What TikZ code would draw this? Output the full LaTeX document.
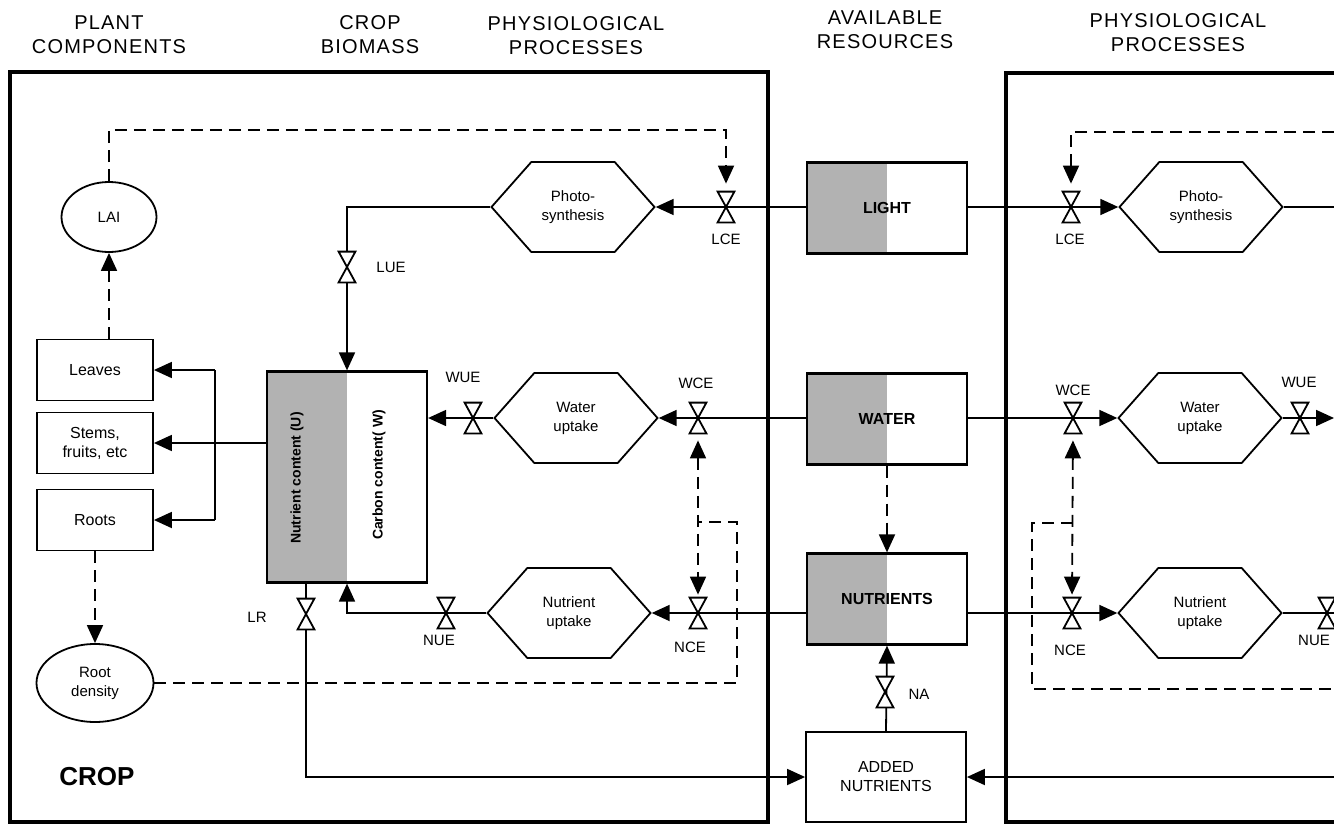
\documentclass[tikz,border=0pt]{standalone}
\usepackage{fontspec}
\setmainfont{Liberation Sans}
\newfontfamily\headfont[LetterSpace=6]{Liberation Sans}
\usetikzlibrary{arrows.meta,shapes.geometric,shapes.symbols}

\tikzset{
  >={Triangle[length=9pt,width=8pt]},
  frame/.style={line width=2.2pt},
  link/.style={line width=0.9pt},
  flow/.style={line width=0.9pt,->},
  fb/.style={line width=0.9pt,dash pattern=on 6pt off 3.5pt},
  box/.style={draw,line width=0.9pt,minimum width=58pt,minimum height=30.5pt,inner sep=0pt,align=center,font=\fontsize{8}{9.5}\selectfont},
  blob/.style={draw,ellipse,line width=0.9pt,inner sep=0pt,align=center,font=\fontsize{7.5}{9.5}\selectfont},
  res/.style={draw,line width=1.1pt,minimum width=80pt,minimum height=45.5pt,inner sep=0pt,font=\bfseries\fontsize{8}{9.5}\selectfont,
    path picture={\fill[black!30] (path picture bounding box.south west) rectangle (path picture bounding box.north);}},
  proc/.style={draw,signal,signal to=west and east,signal pointer angle=97,line width=0.9pt,minimum width=81.5pt,minimum height=45pt,inner sep=0pt,align=center,font=\fontsize{7.5}{9.5}\selectfont},
  valve/.style={minimum width=8pt,minimum height=15pt,inner sep=0pt},
  lbl/.style={font=\fontsize{7.5}{9}\selectfont},
  head/.style={align=center,font=\headfont\fontsize{10}{12}\selectfont},
}

\begin{document}
\begin{tikzpicture}[x=0.5pt,y=-0.5pt]
\useasboundingbox (0,0) rectangle (1334,825);

% headings
\node[head] (hplant) at (109,35) {PLANT\\COMPONENTS};
\node[head] (hbio) at (370,35) {CROP\\BIOMASS};
\node[head] (hphys) at (576,36) {PHYSIOLOGICAL\\PROCESSES};
\node[head] (hres) at (885,30) {AVAILABLE\\RESOURCES};
\node[head] (hphysR) at (1178,33) {PHYSIOLOGICAL\\PROCESSES};

% frames
\draw[frame] (10,72) rectangle (768,822);
\draw[frame] (1340,73) -- (1006,73) -- (1006,822) -- (1340,822);

% plant components
\node[blob,minimum width=47.5pt,minimum height=35pt] (lai) at (109,217) {LAI};
\node[box] (leaves) at (95,370) {Leaves};
\node[box] (stems) at (95,443) {Stems,\\fruits, etc};
\node[box] (roots) at (95,520) {Roots};
\node[blob,minimum width=58.5pt,minimum height=39pt] (rootd) at (95,683) {Root\\density};
\node[font=\bfseries\fontsize{13}{15}\selectfont] (crop) at (97,777) {CROP};

% crop biomass
\node[res,minimum height=105.5pt] (bio) at (347,477) {};
\node[rotate=90,font=\bfseries\fontsize{7}{8}\selectfont] (ucont) at (297,478) {Nutrient content (U)};
\node[rotate=90,font=\bfseries\fontsize{7}{8}\selectfont] (wcont) at (379,475) {Carbon content( W)};

% processes
\node[proc] (photo) at (573,207) {Photo-\\synthesis};
\node[proc] (wupt) at (576,418) {Water\\uptake};
\node[proc] (nupt) at (569,613) {Nutrient\\uptake};
\node[proc] (photoR) at (1201,207) {Photo-\\synthesis};
\node[proc] (wuptR) at (1200,418) {Water\\uptake};
\node[proc] (nuptR) at (1200,613) {Nutrient\\uptake};

% resources
\node[res] (light) at (887,208) {LIGHT};
\node[res] (water) at (887,419) {WATER};
\node[res] (nutrients) at (887,599) {NUTRIENTS};
\node[box,minimum width=80pt,minimum height=45pt] (added) at (886,777) {ADDED\\NUTRIENTS};

% valves
\node[valve] (lce) at (726,207) {};
\node[valve] (lue) at (347,267) {};
\node[valve] (wue) at (473,418) {};
\node[valve] (wce) at (698,418) {};
\node[valve] (nue) at (446,613) {};
\node[valve] (nce) at (698,613) {};
\node[valve] (lr) at (306,614) {};
\node[valve] (na) at (885,692) {};
\node[valve] (lceR) at (1071,207) {};
\node[valve] (wceR) at (1073,418) {};
\node[valve] (wueR) at (1300,418) {};
\node[valve] (nceR) at (1072,613) {};
\node[valve] (nueR) at (1327,613) {};

\node[lbl] (tlce) at (726,239) {LCE};
\node[lbl] (tlue) at (391,267) {LUE};
\node[lbl] (twue) at (463,377) {WUE};
\node[lbl] (twce) at (696,383) {WCE};
\node[lbl] (tnue) at (439,640) {NUE};
\node[lbl] (tnce) at (690,647) {NCE};
\node[lbl] (tlr) at (257,617) {LR};
\node[lbl] (tna) at (919,694) {NA};
\node[lbl] (tlceR) at (1070,239) {LCE};
\node[lbl] (twceR) at (1073,390) {WCE};
\node[lbl] (twueR) at (1299,382) {WUE};
\node[lbl] (tnceR) at (1070,650) {NCE};
\node[lbl] (tnueR) at (1314,640) {NUE};

% material flows
\coordinate (split) at (215,443);
\draw[flow] (stems.east -| bio.west) -- (stems.east);
\draw[link] (split |- leaves.east) -- (split |- roots.east);
\draw[flow] (split |- leaves.east) -- (leaves.east);
\draw[flow] (split |- roots.east) -- (roots.east);
\draw[flow] (photo.east -| light.west) -- (photo.east);
\draw[flow] (photo.west) -| (bio.north);
\draw[flow] (wupt.east -| water.west) -- (wupt.east);
\draw[flow] (wupt.west) -- (wupt.west -| bio.east);
\draw[flow] (nupt.east -| nutrients.west) -- (nupt.east);
\draw[flow] (nupt.west) -| (bio.south);
\draw[flow] (lr |- bio.south) |- (added.west);
\draw[flow] (added.north) -- (nutrients.south);
\coordinate (addin) at (1334,777);
\draw[flow] (addin) -- (added.east);

\draw[flow] (photoR.west -| light.east) -- (photoR.west);
\coordinate (photoout) at (1334,207);
\draw[link] (photoR.east) -- (photoout);
\draw[flow] (wuptR.west -| water.east) -- (wuptR.west);
\coordinate (wout) at (1334,418);
\draw[flow] (wuptR.east) -- (wout);
\draw[flow] (nuptR.west -| nutrients.east) -- (nuptR.west);
\coordinate (nout) at (1334,613);
\draw[link] (nuptR.east) -- (nout);

% feedbacks
\coordinate (lcetop) at (726,130);
\draw[fb,->,shorten >=4pt] (lai.north) |- (lcetop) -- (lce.north);
\draw[fb,->] (lai.south |- leaves.north) -- (lai.south);
\draw[fb,->] (roots.south) -- (rootd.north);
\coordinate (fbcorner) at (737,522);
\draw[fb] (rootd.east) -| (fbcorner) -- (fbcorner -| wce);
\draw[fb,<->,shorten <=3.5pt,shorten >=1.5pt] (wce.south) -- (nce.north);
\draw[fb,->] (water.south) -- (nutrients.north);

\coordinate (lceRtop) at (1334,132);
\draw[fb,->,shorten >=4pt] (lceRtop) -| (lceR.north);
\draw[fb,<->,shorten <=3.5pt,shorten >=1.5pt] (wceR.south) -- (nceR.north);
\coordinate (fbR) at (1032,523);
\coordinate (fbRout) at (1334,689);
\draw[fb] (wceR |- fbR) -- (fbR) |- (fbRout);

% valve symbols
\foreach \v in {lce,lue,wue,wce,nue,nce,lr,na,lceR,wceR,wueR,nceR,nueR}
  \draw[line width=0.9pt,fill=white] (\v.north west) -- (\v.north east) -- (\v.south west) -- (\v.south east) -- cycle;
\end{tikzpicture}
\end{document}
